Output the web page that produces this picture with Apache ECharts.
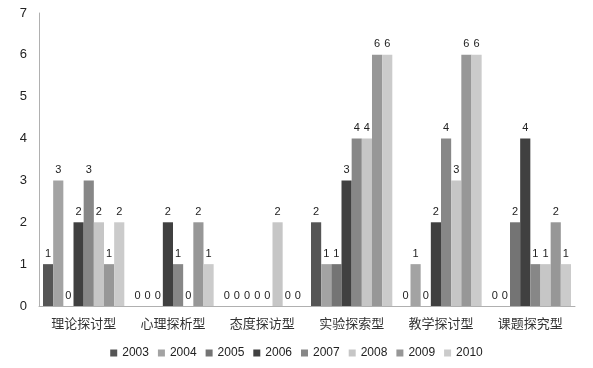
<!DOCTYPE html>
<html><head><meta charset="utf-8">
<script src="https://cdn.jsdelivr.net/npm/echarts@6/dist/echarts.min.js"></script>
<style>html,body{margin:0;padding:0;background:#fff}#c{width:593px;height:368px}</style>
</head><body><div id="c"></div>
<script>
const categories = ['理论探讨型','心理探析型','态度探访型','实验探索型','教学探讨型','课题探究型'];
const years = ['2003','2004','2005','2006','2007','2008','2009','2010'];
const v2003 = [1,0,0,2,0,0];
const v2004 = [3,0,0,1,1,0];
const v2005 = [0,0,0,1,0,2];
const v2006 = [2,2,0,3,2,4];
const v2007 = [3,1,0,4,4,1];
const v2008 = [2,0,2,4,3,1];
const v2009 = [1,2,0,6,6,2];
const v2010 = [2,1,0,6,6,1];
const yTicks = [0,1,2,3,4,5,6,7];

const values = [v2003,v2004,v2005,v2006,v2007,v2008,v2009,v2010];
const colors = ['#555555','#a3a3a3','#747474','#404040','#878787','#c6c6c6','#979797','#cbcbcb'];
const font = '"Noto Sans CJK SC", "DejaVu Sans", sans-serif';
const chart = echarts.init(document.getElementById('c'), null, {renderer:'canvas'});
chart.setOption({
  animation:false,
  backgroundColor:'#fff',
  grid:{left:39,right:18,top:13,bottom:62,containLabel:false},
  legend:{
    bottom:4,left:'center',itemWidth:7,itemHeight:7,itemGap:9,icon:'rect',
    textStyle:{fontSize:12,color:'#222',fontFamily:'"Liberation Sans", "Noto Sans", sans-serif'},
    data:years
  },
  xAxis:{
    type:'category',data:categories,
    axisLine:{lineStyle:{color:'#b0b0b0',width:1}},
    axisTick:{show:false},
    axisLabel:{fontSize:13,color:'#333',margin:11,fontFamily:font}
  },
  yAxis:{
    type:'value',min:0,max:7,interval:1,
    axisLine:{show:true,lineStyle:{color:'#b0b0b0',width:1}},
    axisTick:{show:false},
    splitLine:{show:false},
    axisLabel:{fontSize:13,color:'#222',margin:12,fontFamily:'"Liberation Sans", sans-serif',
      formatter:v=>yTicks.includes(v)?String(v):''}
  },
  series: years.map((y,i)=>({
    name:y,type:'bar',data:values[i],
    barGap:'0%',barCategoryGap:'9%',
    itemStyle:{color:colors[i]},
    label:{show:true,position:'top',distance:5,fontSize:11,color:'#222',fontFamily:'"Liberation Sans", sans-serif'}
  }))
});
</script></body></html>
